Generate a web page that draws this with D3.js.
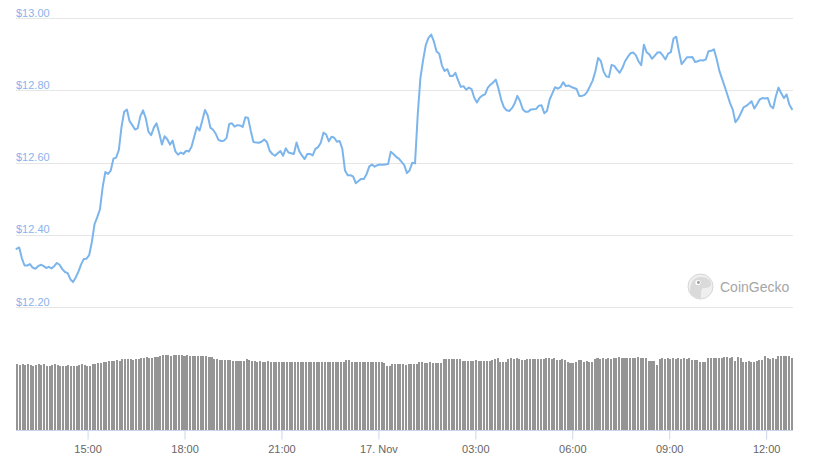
<!DOCTYPE html>
<html><head><meta charset="utf-8">
<script src="https://cdn.jsdelivr.net/npm/d3@7"></script>
<style>html,body{margin:0;padding:0;background:#fff;} svg{display:block}</style>
</head><body>
<svg id="c" width="816" height="462"></svg>
<script>
// ---- data ----
const startTime = new Date(2020, 10, 16, 12, 48);
const stepMinutes = 5;
const prices = [
12.361,12.365,12.335,12.315,12.315,12.319,12.309,12.306,12.313,12.317,
12.314,12.308,12.311,12.307,12.313,12.322,12.317,12.305,12.297,12.294,
12.277,12.269,12.282,12.298,12.318,12.333,12.334,12.344,12.381,12.430,
12.449,12.471,12.532,12.574,12.569,12.578,12.611,12.614,12.635,12.699,
12.741,12.747,12.715,12.704,12.692,12.695,12.729,12.745,12.723,12.686,
12.676,12.697,12.709,12.682,12.650,12.673,12.665,12.650,12.661,12.631,
12.622,12.628,12.624,12.633,12.631,12.644,12.672,12.699,12.689,12.717,
12.746,12.731,12.697,12.691,12.680,12.663,12.660,12.661,12.668,12.707,
12.709,12.700,12.704,12.703,12.699,12.726,12.724,12.688,12.657,12.656,
12.655,12.658,12.664,12.657,12.633,12.624,12.619,12.626,12.632,12.619,
12.640,12.628,12.626,12.624,12.656,12.632,12.620,12.610,12.624,12.624,
12.620,12.638,12.643,12.655,12.683,12.678,12.659,12.672,12.669,12.658,
12.660,12.638,12.578,12.565,12.565,12.562,12.543,12.549,12.555,12.555,
12.568,12.589,12.595,12.589,12.593,12.595,12.594,12.595,12.596,12.630,
12.624,12.616,12.611,12.602,12.593,12.571,12.579,12.600,12.598,12.732,
12.835,12.884,12.926,12.946,12.955,12.936,12.908,12.902,12.869,12.854,
12.859,12.840,12.840,12.849,12.828,12.810,12.812,12.802,12.808,12.804,
12.780,12.767,12.780,12.786,12.789,12.807,12.816,12.822,12.830,12.805,
12.774,12.754,12.745,12.743,12.751,12.764,12.785,12.771,12.748,12.741,
12.741,12.747,12.748,12.749,12.758,12.759,12.737,12.743,12.775,12.792,
12.809,12.805,12.809,12.823,12.812,12.814,12.810,12.807,12.804,12.785,
12.785,12.788,12.797,12.812,12.828,12.854,12.890,12.882,12.853,12.839,
12.837,12.871,12.868,12.858,12.849,12.862,12.881,12.893,12.903,12.905,
12.898,12.881,12.870,12.927,12.906,12.900,12.888,12.896,12.905,12.906,
12.897,12.886,12.902,12.906,12.944,12.949,12.909,12.873,12.882,12.892,
12.892,12.893,12.879,12.881,12.884,12.883,12.886,12.909,12.910,12.914,
12.888,12.855,12.833,12.811,12.788,12.765,12.747,12.712,12.722,12.737,
12.753,12.757,12.763,12.770,12.750,12.762,12.775,12.779,12.778,12.779,
12.757,12.751,12.784,12.808,12.792,12.779,12.789,12.761,12.748
];
// 24h volume (millions USD), one bar per 5 minutes
const volumes = [
144,143,144,143,144,143,141,143,144,143,144,140,141,143,144,143,141,141,140,143,
141,141,140,143,144,143,141,141,145,145,146,147,148,150,151,152,152,153,151,155,
156,155,156,154,156,155,158,157,160,158,157,159,160,163,164,165,164,163,165,164,
164,165,163,164,162,161,162,161,162,161,161,160,160,156,155,154,154,153,154,153,
152,152,152,151,152,155,154,151,151,150,151,150,150,151,150,150,150,150,150,150,
149,150,150,149,150,150,148,148,148,148,148,149,150,150,150,149,150,150,150,150,
150,150,154,154,150,150,150,149,149,148,149,149,148,149,149,148,146,140,141,144,
144,144,144,144,143,144,144,144,144,150,149,147,147,148,147,146,147,147,155,156,
155,155,156,155,156,152,152,151,152,152,153,152,151,152,152,152,153,156,157,150,
150,150,156,157,156,157,156,153,153,155,156,155,156,155,156,156,157,157,156,157,
154,154,155,154,148,147,147,150,153,153,150,151,150,150,156,157,156,157,156,157,
156,158,158,159,158,158,157,158,158,158,159,158,158,158,152,151,152,143,156,157,
156,157,156,157,156,157,156,157,156,157,154,154,154,150,149,150,157,158,157,158,
157,158,159,159,158,159,152,159,158,150,149,151,150,150,151,153,153,161,157,156,
157,156,161,161,162,161,161,157
];
const yTickValues = [12.2, 12.4, 12.6, 12.8, 13.0];
const yTickLabels = ["$12.20", "$12.40", "$12.60", "$12.80", "$13.00"];
const xTickTimes = [
  new Date(2020, 10, 16, 15), new Date(2020, 10, 16, 18), new Date(2020, 10, 16, 21),
  new Date(2020, 10, 17, 0), new Date(2020, 10, 17, 3), new Date(2020, 10, 17, 6),
  new Date(2020, 10, 17, 9), new Date(2020, 10, 17, 12)
];
const xTickLabels = ["15:00", "18:00", "21:00", "17. Nov", "03:00", "06:00", "09:00", "12:00"];

// ---- chart ----
const FONT = "'Liberation Sans', Arial, sans-serif";
const svg = d3.select("#c");
const plotLeft = 16, plotRight = 793;
const times = prices.map((_, i) => new Date(+startTime + i * stepMinutes * 60000));
const x = d3.scaleTime().domain([times[0], times[times.length - 1]]).range([16.5, 792]);
const y = d3.scaleLinear().domain([12.2, 13.0]).range([307, 18.3]);
const yv = d3.scaleLinear().domain([0, 200]).range([430.5, 338.5]);
const xb = d3.scaleBand().domain(d3.range(volumes.length)).range([plotLeft, plotRight]).paddingInner(0.25).paddingOuter(0.05);

// gridlines + y labels
const yAxis = d3.axisLeft(y).tickValues(yTickValues).tickSize(-(plotRight - plotLeft))
  .tickFormat((d, i) => yTickLabels[i]);
const gy = svg.append("g").attr("transform", `translate(${plotLeft},0)`).call(yAxis);
gy.select(".domain").remove();
gy.selectAll(".tick line").attr("stroke", "#e6e6e6").attr("shape-rendering", "crispEdges");
gy.selectAll(".tick text").attr("x", 0).attr("dy", -2).attr("y", 0)
  .attr("text-anchor", "start").attr("dominant-baseline", "auto")
  .attr("fill", "#8ab3ea").style("font-family", FONT).style("font-size", "11px");

// watermark
const wm = svg.append("g");
wm.append("circle").attr("cx", 700.5).attr("cy", 286.5).attr("r", 12.5)
  .attr("fill", "#efefef").attr("stroke", "#d6d6d6").attr("stroke-width", 1);
wm.append("path").attr("d", "M690,292 C690,282 694,277 701,277 C707,277 711,280 711,284 C711,287 708,288 704,288 C702,288 701,290 701,293 L701,298 C696,298 690,296 690,292 Z")
  .attr("fill", "#dadada");
wm.append("circle").attr("cx", 698).attr("cy", 282.5).attr("r", 2.6).attr("fill", "#fff");
wm.append("circle").attr("cx", 698.4).attr("cy", 282.5).attr("r", 1.4).attr("fill", "#9a9a9a");
wm.append("text").attr("x", 720).attr("y", 291.5).text("CoinGecko")
  .attr("fill", "#a6a6a6").style("font-family", FONT).style("font-size", "14px");

// volume bars
svg.append("g").selectAll("rect").data(volumes).join("rect")
  .attr("x", (d, i) => xb(i))
  .attr("width", xb.bandwidth())
  .attr("y", d => yv(d))
  .attr("height", d => yv(0) - yv(d))
  .attr("fill", "#959595")
  .attr("shape-rendering", "crispEdges");

// x axis
const xAxis = d3.axisBottom(x).tickValues(xTickTimes).tickSize(9).tickPadding(6)
  .tickFormat((d, i) => xTickLabels[i]);
const gx = svg.append("g").attr("transform", "translate(0,430.5)").call(xAxis);
gx.select(".domain").attr("d", `M${plotLeft},0H${plotRight}`).attr("stroke", "#ccd6eb");
gx.selectAll(".tick line").attr("stroke", "#ccd6eb");
gx.selectAll(".tick text").attr("fill", "#666666").style("font-family", FONT).style("font-size", "11px");

// price line
const line = d3.line().x((d, i) => x(times[i])).y(d => y(d));
svg.append("path").datum(prices).attr("d", line)
  .attr("fill", "none").attr("stroke", "#7cb5ec").attr("stroke-width", 2)
  .attr("stroke-linejoin", "round").attr("stroke-linecap", "round");
</script>
</body></html>
